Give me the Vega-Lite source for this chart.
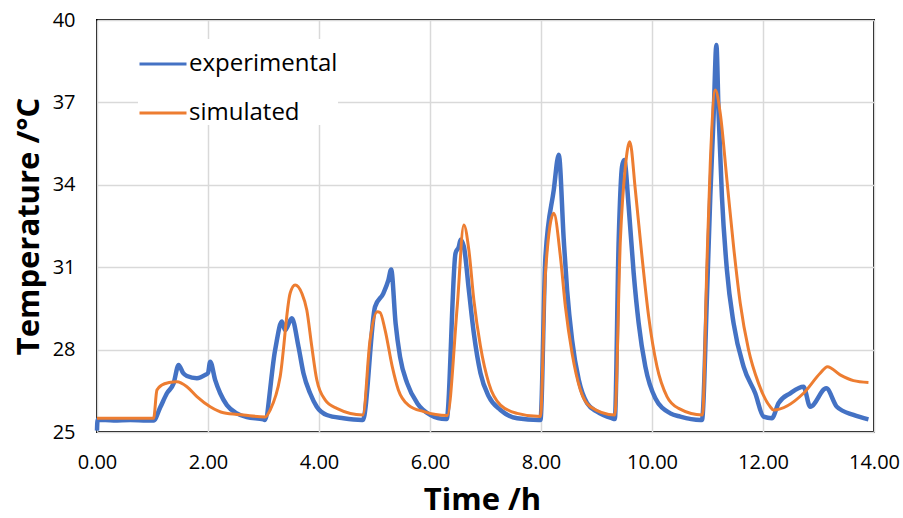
{
  "$schema": "https://vega.github.io/schema/vega-lite/v6.json",
  "width": 777,
  "height": 412,
  "autosize": {"type": "none"},
  "padding": {"left": 97, "top": 20, "right": 29, "bottom": 86},
  "background": "white",
  "config": {
    "view": {"stroke": "black", "strokeWidth": 2},
    "font": "Open Sans",
    "axis": {"labelFont": "Open Sans", "titleFont": "Open Sans", "labelColor": "black", "titleColor": "black", "domain": false, "ticks": false, "gridColor": "#d9d9d9", "gridWidth": 1.5}
  },
  "datasets": {
    "exp": [
      {"t": 0, "T": 25.05}, {"t": 0.01, "T": 25.45}, {"t": 0.3, "T": 25.42}, {"t": 0.6, "T": 25.44}, {"t": 0.9, "T": 25.42}, {"t": 1.02, "T": 25.42},
      {"t": 1.14, "T": 25.9}, {"t": 1.26, "T": 26.41}, {"t": 1.38, "T": 26.77}, {"t": 1.47, "T": 27.44}, {"t": 1.55, "T": 27.15}, {"t": 1.62, "T": 27.04},
      {"t": 1.8, "T": 26.96}, {"t": 1.95, "T": 27.08}, {"t": 2.0, "T": 27.15}, {"t": 2.04, "T": 27.56}, {"t": 2.13, "T": 26.89}, {"t": 2.22, "T": 26.41},
      {"t": 2.34, "T": 25.98}, {"t": 2.52, "T": 25.68}, {"t": 2.7, "T": 25.54}, {"t": 3.0, "T": 25.46}, {"t": 3.02, "T": 25.44}, {"t": 3.21, "T": 27.99},
      {"t": 3.33, "T": 29.02}, {"t": 3.39, "T": 28.71}, {"t": 3.51, "T": 29.14}, {"t": 3.63, "T": 28.11}, {"t": 3.72, "T": 27.14}, {"t": 3.84, "T": 26.41},
      {"t": 3.96, "T": 25.92}, {"t": 4.14, "T": 25.62}, {"t": 4.44, "T": 25.5}, {"t": 4.77, "T": 25.44}, {"t": 4.79, "T": 25.44}, {"t": 5.01, "T": 29.56},
      {"t": 5.16, "T": 30.05}, {"t": 5.25, "T": 30.53}, {"t": 5.3, "T": 30.92}, {"t": 5.38, "T": 28.96}, {"t": 5.46, "T": 27.74}, {"t": 5.59, "T": 26.77},
      {"t": 5.77, "T": 26.05}, {"t": 6.01, "T": 25.62}, {"t": 6.28, "T": 25.47}, {"t": 6.3, "T": 25.47}, {"t": 6.46, "T": 31.51}, {"t": 6.52, "T": 31.75},
      {"t": 6.55, "T": 32.0}, {"t": 6.61, "T": 31.75}, {"t": 6.7, "T": 30.17}, {"t": 6.79, "T": 28.59}, {"t": 6.91, "T": 27.14}, {"t": 7.06, "T": 26.29},
      {"t": 7.27, "T": 25.8}, {"t": 7.57, "T": 25.5}, {"t": 7.96, "T": 25.44}, {"t": 7.99, "T": 25.44}, {"t": 8.08, "T": 31.38}, {"t": 8.23, "T": 33.81},
      {"t": 8.32, "T": 35.09}, {"t": 8.41, "T": 31.99}, {"t": 8.47, "T": 30.17}, {"t": 8.56, "T": 28.35}, {"t": 8.68, "T": 26.9}, {"t": 8.83, "T": 26.05},
      {"t": 9.01, "T": 25.74}, {"t": 9.28, "T": 25.5}, {"t": 9.33, "T": 25.47}, {"t": 9.4, "T": 31.99}, {"t": 9.46, "T": 34.66}, {"t": 9.5, "T": 34.9},
      {"t": 9.58, "T": 33.2}, {"t": 9.67, "T": 30.78}, {"t": 9.76, "T": 28.96}, {"t": 9.88, "T": 27.38}, {"t": 10.06, "T": 26.23}, {"t": 10.33, "T": 25.68},
      {"t": 10.51, "T": 25.56}, {"t": 10.87, "T": 25.44}, {"t": 10.9, "T": 25.44}, {"t": 10.99, "T": 29.93}, {"t": 11.05, "T": 33.57}, {"t": 11.11, "T": 36.48},
      {"t": 11.16, "T": 39.09}, {"t": 11.2, "T": 36.6}, {"t": 11.26, "T": 33.57}, {"t": 11.35, "T": 30.9}, {"t": 11.47, "T": 28.96}, {"t": 11.65, "T": 27.38},
      {"t": 11.86, "T": 26.41}, {"t": 12.01, "T": 25.56}, {"t": 12.16, "T": 25.5}, {"t": 12.28, "T": 26.05}, {"t": 12.49, "T": 26.41}, {"t": 12.73, "T": 26.65},
      {"t": 12.85, "T": 25.92}, {"t": 13.14, "T": 26.59}, {"t": 13.33, "T": 25.92}, {"t": 13.63, "T": 25.62}, {"t": 13.9, "T": 25.46}
    ],
    "sim": [
      {"t": 0, "T": 25.5}, {"t": 1.02, "T": 25.5}, {"t": 1.08, "T": 26.53}, {"t": 1.17, "T": 26.71}, {"t": 1.3, "T": 26.8}, {"t": 1.44, "T": 26.83},
      {"t": 1.62, "T": 26.65}, {"t": 1.8, "T": 26.29}, {"t": 2.04, "T": 25.92}, {"t": 2.28, "T": 25.7}, {"t": 2.64, "T": 25.62}, {"t": 3.03, "T": 25.55},
      {"t": 3.12, "T": 25.8}, {"t": 3.3, "T": 27.01}, {"t": 3.48, "T": 30.05}, {"t": 3.57, "T": 30.35}, {"t": 3.69, "T": 30.05}, {"t": 3.78, "T": 29.44},
      {"t": 3.87, "T": 28.11}, {"t": 3.96, "T": 26.9}, {"t": 4.11, "T": 26.17}, {"t": 4.32, "T": 25.86}, {"t": 4.79, "T": 25.62}, {"t": 4.92, "T": 28.35},
      {"t": 5.05, "T": 29.38}, {"t": 5.1, "T": 29.35}, {"t": 5.19, "T": 28.72}, {"t": 5.32, "T": 27.38}, {"t": 5.43, "T": 26.53}, {"t": 5.61, "T": 25.98},
      {"t": 5.89, "T": 25.74}, {"t": 6.31, "T": 25.6}, {"t": 6.49, "T": 29.56}, {"t": 6.61, "T": 32.54}, {"t": 6.7, "T": 31.63}, {"t": 6.79, "T": 29.81},
      {"t": 6.91, "T": 28.11}, {"t": 7.06, "T": 26.77}, {"t": 7.27, "T": 25.98}, {"t": 7.57, "T": 25.68}, {"t": 7.99, "T": 25.56}, {"t": 8.08, "T": 30.78},
      {"t": 8.23, "T": 32.96}, {"t": 8.35, "T": 31.38}, {"t": 8.44, "T": 29.56}, {"t": 8.56, "T": 27.87}, {"t": 8.71, "T": 26.53}, {"t": 8.89, "T": 25.92},
      {"t": 9.33, "T": 25.62}, {"t": 9.43, "T": 31.99}, {"t": 9.52, "T": 34.66}, {"t": 9.6, "T": 35.57}, {"t": 9.7, "T": 33.81}, {"t": 9.82, "T": 31.38},
      {"t": 9.94, "T": 29.2}, {"t": 10.09, "T": 27.38}, {"t": 10.27, "T": 26.29}, {"t": 10.48, "T": 25.86}, {"t": 10.91, "T": 25.62}, {"t": 10.99, "T": 31.14},
      {"t": 11.05, "T": 34.78}, {"t": 11.14, "T": 37.45}, {"t": 11.23, "T": 36.6}, {"t": 11.35, "T": 34.17}, {"t": 11.47, "T": 31.75}, {"t": 11.59, "T": 29.69},
      {"t": 11.74, "T": 27.99}, {"t": 11.92, "T": 26.77}, {"t": 12.13, "T": 25.92}, {"t": 12.19, "T": 25.8}, {"t": 12.73, "T": 26.41}, {"t": 13.03, "T": 27.14},
      {"t": 13.16, "T": 27.38}, {"t": 13.39, "T": 27.08}, {"t": 13.63, "T": 26.87}, {"t": 13.9, "T": 26.8}
    ]
  },
  "encoding": {
    "x": {"field": "t", "type": "quantitative", "scale": {"domain": [0, 14], "nice": false},
      "axis": {"title": "Time /h", "values": [0, 2, 4, 6, 8, 10, 12, 14], "format": ".2f", "labelFontSize": 20, "labelPadding": 20, "labelFlush": false, "labelOverlap": false,
        "titleFontSize": 31, "titleFontWeight": "bold", "titleX": 385, "titleY": 68, "titleBaseline": "middle"}},
    "y": {"field": "T", "type": "quantitative", "scale": {"domain": [25, 40], "nice": false, "zero": false},
      "axis": {"title": "Temperature /°C", "values": [25, 28, 31, 34, 37, 40], "labelFontSize": 20, "labelPadding": 22, "labelFlush": false,
        "titleFontSize": 31, "titleFontWeight": "bold", "titleX": -68, "titleY": 206, "titleAngle": -90, "titleAlign": "center", "titleBaseline": "middle"}},
    "color": {"field": "series", "type": "nominal",
      "scale": {"domain": ["experimental", "simulated"], "range": ["#4472C4", "#ED7D31"]},
      "legend": {"title": null, "orient": "none", "legendX": 41, "legendY": 19, "symbolType": "stroke", "symbolSize": 2209, "symbolStrokeWidth": 3,
        "labelFontSize": 24, "labelFont": "Open Sans", "labelColor": "black", "labelOffset": 1, "rowPadding": 12, "fillColor": "white"}}
  },
  "layer": [
    {"data": {"name": "exp"}, "transform": [{"calculate": "'experimental'", "as": "series"}],
      "mark": {"type": "line", "strokeWidth": 4.5, "strokeJoin": "round", "interpolate": "monotone"}},
    {"data": {"name": "sim"}, "transform": [{"calculate": "'simulated'", "as": "series"}],
      "mark": {"type": "line", "strokeWidth": 3, "interpolate": "monotone"}}
  ]
}
